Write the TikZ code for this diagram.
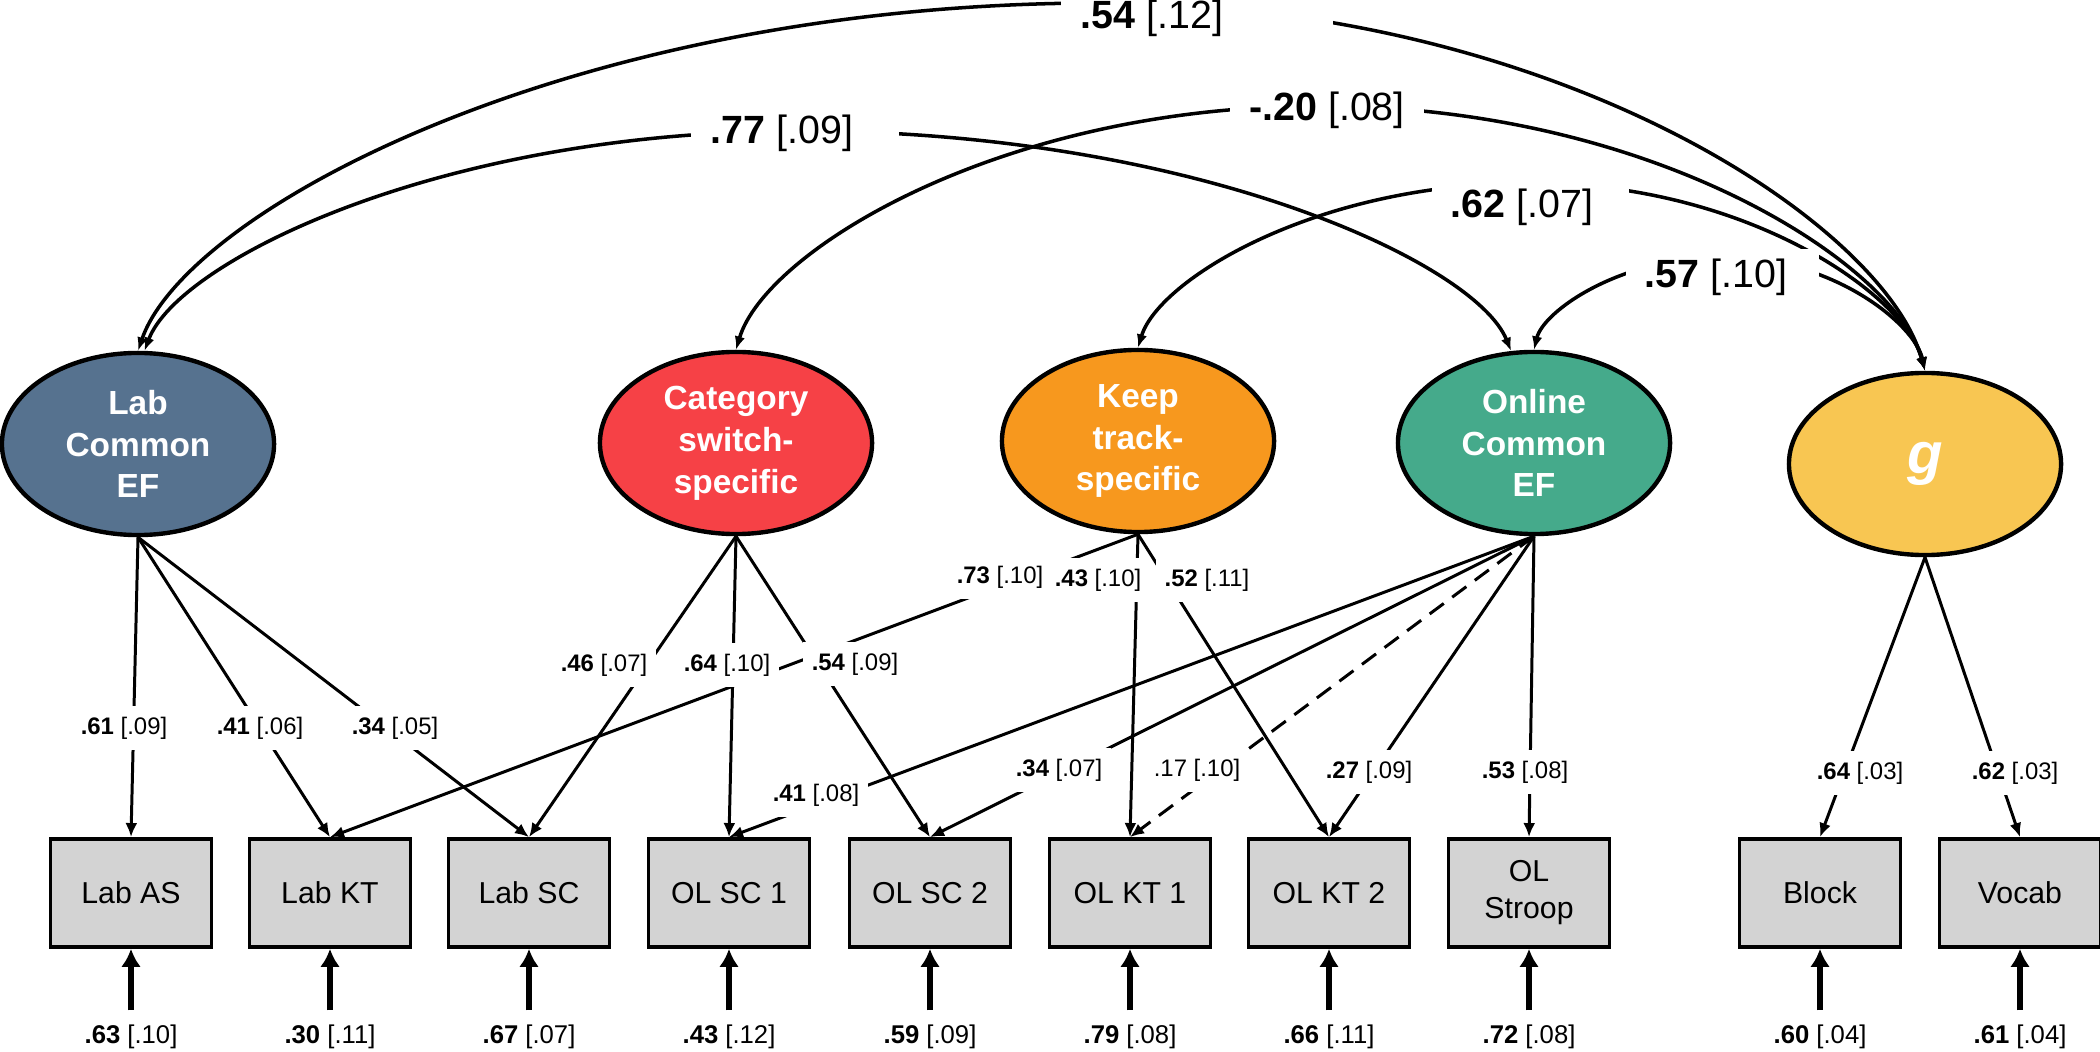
\documentclass[tikz,border=0pt]{standalone}
\usepackage{fontspec}
\setmainfont{Liberation Sans}
\usepackage{tikz}
\usetikzlibrary{arrows.meta}
\usetikzlibrary{shapes.geometric}
\definecolor{labblue}{RGB}{86,114,143}
\definecolor{catred}{RGB}{246,65,70}
\definecolor{keeporange}{RGB}{247,152,30}
\definecolor{olgreen}{RGB}{69,170,139}
\definecolor{gyellow}{RGB}{248,198,82}
\definecolor{boxgray}{RGB}{211,211,211}
\newcommand{\estse}[2]{\textbf{#1} [#2]}
\tikzset{latent/.style = {ellipse, draw, line width=1.25pt, minimum width=2.72cm,
                          minimum height=1.82cm, inner sep=0, text=white, align=center,
                          font=\bfseries\fontsize{9.5}{11.9}\selectfont}}
\tikzset{manifest/.style = {rectangle, draw, line width=1.05pt, fill=boxgray, minimum width=1.61cm,
                            minimum height=1.08cm, align=center,
                            font=\fontsize{8.6}{10.5}\selectfont}}
\tikzset{load/.style = {line width=0.85pt, -{Latex[length=4pt, width=3.4pt]}}}
\tikzset{corr/.style = {line width=1pt, {Latex[length=3.8pt, width=3pt]}-{Latex[length=3.8pt, width=3pt]}}}
\tikzset{resid/.style = {line width=1.8pt, -{Latex[length=5.1pt, width=5.6pt]}, shorten <=0.07cm}}
\tikzset{loadlbl/.style = {fill=white, inner xsep=2.5pt, inner ysep=3pt, font=\fontsize{6.8}{8}\selectfont}}
\tikzset{corrlbl/.style = {fill=white, inner xsep=5.5pt, inner ysep=2.8pt, font=\fontsize{11.2}{13}\selectfont}}
\tikzset{residlbl/.style = {inner sep=2pt, font=\fontsize{7.3}{8.5}\selectfont}}

\begin{document}
\begin{tikzpicture}[x=0.01cm, y=-0.01cm]
  \useasboundingbox (0,0) rectangle (2100,1052);
  % factors
  \node[latent, fill=labblue] (labcom) at (138,444) {Lab\\Common\\EF};
  \node[latent, fill=catred] (catsw) at (736,443) {Category\\switch-\\specific};
  \node[latent, fill=keeporange] (keeptr) at (1138,441) {Keep\\track-\\specific};
  \node[latent, fill=olgreen] (olcom) at (1534,443) {Online\\Common\\EF};
  \node[latent, fill=gyellow, font=\bfseries\itshape\fontsize{16.5}{18}\selectfont] (gfac) at (1925,464) {g};
  % tasks
  \node[manifest] (labas) at (131,893) {Lab AS};
  \node[manifest] (labkt) at (330,893) {Lab KT};
  \node[manifest] (labsc) at (529,893) {Lab SC};
  \node[manifest] (olsc1) at (729,893) {OL SC 1};
  \node[manifest] (olsc2) at (930,893) {OL SC 2};
  \node[manifest] (olkt1) at (1130,893) {OL KT 1};
  \node[manifest] (olkt2) at (1329,893) {OL KT 2};
  \node[manifest] (olstroop) at (1529,893) {OL\\Stroop};
  \node[manifest] (block) at (1820,893) {Block};
  \node[manifest] (vocab) at (2020,893) {Vocab};
  % correlations
  \coordinate (k54) at (1100,3);
  \coordinate (k77) at (800,131);
  \coordinate (k20) at (1320,106);
  \coordinate (k62) at (1530,183);
  \coordinate (k57) at (1723,257);
  \draw[corr] (labcom.north) .. controls +(48,-140) and +(-529,0) .. (k54)
                             .. controls +(454,0) and +(-41,-148) .. (gfac.north);
  \draw[corr] (labcom.86) .. controls +(33,-89) and +(-361,0) .. (k77)
                          .. controls +(392,0) and +(-36,-89) .. (olcom.104);
  \draw[corr] (catsw.north) .. controls +(29,-98) and +(-321,0) .. (k20)
                            .. controls +(333,0) and +(-30,-107) .. (gfac.north);
  \draw[corr] (keeptr.north) .. controls +(20,-67) and +(-216,0) .. (k62)
                             .. controls +(217,0) and +(-20,-76) .. (gfac.north);
  \draw[corr] (olcom.north) .. controls +(9,-38) and +(-104,0) .. (k57)
                            .. controls +(111,0) and +(-10,-46) .. (gfac.north);
  \node[corrlbl] (c54) at (1197,18) {\estse{.54}{.12}\hspace*{0.9cm}};
  \node[corrlbl] (c77) at (795,133) {\estse{.77}{.09}\hspace*{0.26cm}};
  \node[corrlbl] (c20) at (1327,110) {\estse{-.20}{.08}};
  \node[corrlbl] (c62) at (1530,207) {\estse{.62}{.07}\hspace*{0.16cm}};
  \node[corrlbl] (c57) at (1722,277) {\estse{.57}{.10}\hspace*{0.12cm}};
  % loadings
  \draw[load] (labcom.south) -- (labas.north);
  \draw[load] (labcom.south) -- (labkt.north);
  \draw[load] (labcom.south) -- (labsc.north);
  \draw[load] (catsw.south) -- (labsc.north);
  \draw[load] (catsw.south) -- (olsc1.north);
  \draw[load] (catsw.south) -- (olsc2.north);
  \draw[load] (keeptr.south) -- (labkt.north);
  \draw[load] (keeptr.south) -- (olkt1.north);
  \draw[load] (keeptr.south) -- (olkt2.north);
  \draw[load] (olcom.south) -- (olsc1.north);
  \draw[load] (olcom.south) -- (olsc2.north);
  \draw[load, dash pattern=on 5pt off 3pt] (olcom.south) -- (olkt1.north);
  \draw[load] (olcom.south) -- (olkt2.north);
  \draw[load] (olcom.south) -- (olstroop.north);
  \draw[load] (gfac.south) -- (block.north);
  \draw[load] (gfac.south) -- (vocab.north);
  \node[loadlbl] (l1) at (124,728) {\estse{.61}{.09}};
  \node[loadlbl] (l2) at (260,728) {\estse{.41}{.06}};
  \node[loadlbl] (l3) at (395,728) {\estse{.34}{.05}};
  \node[loadlbl] (l4) at (604,665) {\estse{.46}{.07}};
  \node[loadlbl] (l5) at (727,665) {\estse{.64}{.10}};
  \node[loadlbl] (l6) at (855,664) {\estse{.54}{.09}};
  \node[loadlbl] (l7) at (1000,577) {\estse{.73}{.10}};
  \node[loadlbl] (l8) at (1098,580) {\estse{.43}{.10}};
  \node[loadlbl] (l9) at (1207,580) {\estse{.52}{.11}};
  \node[loadlbl] (l10) at (816,795) {\estse{.41}{.08}};
  \node[loadlbl] (l11) at (1059,770) {\estse{.34}{.07}};
  \node[loadlbl] (l12) at (1197,770) {.17 [.10]};
  \node[loadlbl] (l13) at (1369,772) {\estse{.27}{.09}};
  \node[loadlbl] (l14) at (1525,772) {\estse{.53}{.08}};
  \node[loadlbl] (l15) at (1860,773) {\estse{.64}{.03}};
  \node[loadlbl] (l16) at (2015,773) {\estse{.62}{.03}};
  % residuals
  \node[residlbl] (rlabas) at (131,1037) {\estse{.63}{.10}};
  \node[residlbl] (rlabkt) at (330,1037) {\estse{.30}{.11}};
  \node[residlbl] (rlabsc) at (529,1037) {\estse{.67}{.07}};
  \node[residlbl] (rolsc1) at (729,1037) {\estse{.43}{.12}};
  \node[residlbl] (rolsc2) at (930,1037) {\estse{.59}{.09}};
  \node[residlbl] (rolkt1) at (1130,1037) {\estse{.79}{.08}};
  \node[residlbl] (rolkt2) at (1329,1037) {\estse{.66}{.11}};
  \node[residlbl] (rolstroop) at (1529,1037) {\estse{.72}{.08}};
  \node[residlbl] (rblock) at (1820,1037) {\estse{.60}{.04}};
  \node[residlbl] (rvocab) at (2020,1037) {\estse{.61}{.04}};
  \draw[resid] (rlabas.north) -- (labas.south);
  \draw[resid] (rlabkt.north) -- (labkt.south);
  \draw[resid] (rlabsc.north) -- (labsc.south);
  \draw[resid] (rolsc1.north) -- (olsc1.south);
  \draw[resid] (rolsc2.north) -- (olsc2.south);
  \draw[resid] (rolkt1.north) -- (olkt1.south);
  \draw[resid] (rolkt2.north) -- (olkt2.south);
  \draw[resid] (rolstroop.north) -- (olstroop.south);
  \draw[resid] (rblock.north) -- (block.south);
  \draw[resid] (rvocab.north) -- (vocab.south);
\end{tikzpicture}
\end{document}
